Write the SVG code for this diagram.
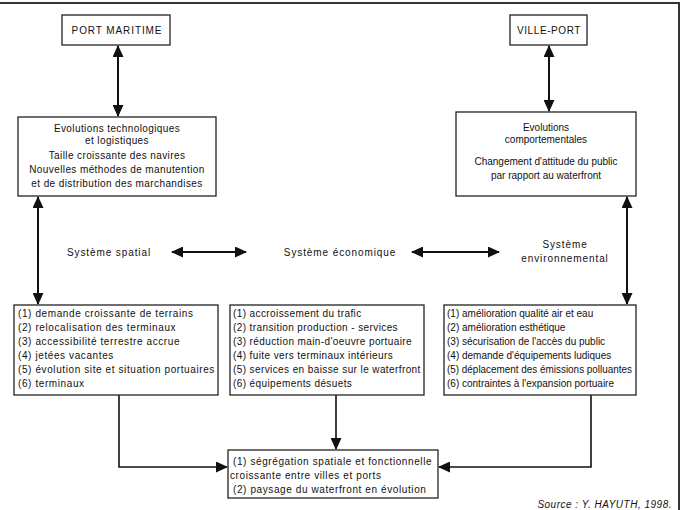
<svg xmlns="http://www.w3.org/2000/svg" width="682" height="510" viewBox="0 0 682 510">
<style>
.box{fill:#fff;stroke:#222;stroke-width:1.3}
.t{font-family:"Liberation Sans",Arial,sans-serif;font-size:10px;fill:#111}
.c{text-anchor:middle}
.ls4{letter-spacing:0.4px}
.ls6{letter-spacing:0.6px}
.ls9{letter-spacing:0.9px}
.ln{fill:none;stroke:#111;stroke-width:2}
.ln2{fill:none;stroke:#111;stroke-width:1.6}
</style>
<defs>
<marker id="ah" viewBox="0 0 12 11" refX="11" refY="5.5" markerWidth="12" markerHeight="11" markerUnits="userSpaceOnUse" orient="auto-start-reverse">
<path d="M0,0 L12,5.5 L0,11 z" fill="#111"/>
</marker>
</defs>
<rect width="682" height="510" fill="#fff"/>
<path d="M0,3 H679 V510" fill="none" stroke="#333" stroke-width="2"/>

<g id="connectors">
<line class="ln" x1="118" y1="46" x2="118" y2="116" marker-start="url(#ah)" marker-end="url(#ah)"/>
<line class="ln" x1="549" y1="46" x2="549" y2="111" marker-start="url(#ah)" marker-end="url(#ah)"/>
<line class="ln" x1="38" y1="197" x2="38" y2="304" marker-start="url(#ah)" marker-end="url(#ah)"/>
<line class="ln" x1="627" y1="197" x2="627" y2="304" marker-start="url(#ah)" marker-end="url(#ah)"/>
<line class="ln" x1="172" y1="252" x2="246" y2="252" marker-start="url(#ah)" marker-end="url(#ah)"/>
<line class="ln" x1="412" y1="252" x2="499" y2="252" marker-start="url(#ah)" marker-end="url(#ah)"/>
<path class="ln2" d="M119,395 V467 H227" marker-end="url(#ah)"/>
<line class="ln2" x1="336" y1="395" x2="336" y2="449" marker-end="url(#ah)"/>
<path class="ln2" d="M591,395 V467 H439" marker-end="url(#ah)"/>
</g>

<g id="port-maritime">
<rect class="box" x="62" y="15" width="108" height="30"/>
<text class="t c ls9" x="117" y="34">PORT MARITIME</text>
</g>
<g id="ville-port">
<rect class="box" x="510" y="15" width="77" height="30"/>
<text class="t c ls6" x="549" y="34">VILLE-PORT</text>
</g>

<g id="evol-tech">
<rect class="box" x="18" y="117" width="198" height="79"/>
<text class="t c ls4" x="117" y="132">Evolutions technologiques</text>
<text class="t c ls4" x="117" y="144">et logistiques</text>
<text class="t c ls4" x="117" y="159">Taille croissante des navires</text>
<text class="t c ls4" x="117" y="173">Nouvelles méthodes de manutention</text>
<text class="t c ls4" x="117" y="187">et de distribution des marchandises</text>
</g>

<g id="evol-comp">
<rect class="box" x="456" y="112" width="180" height="84"/>
<text class="t c" x="546" y="131">Evolutions</text>
<text class="t c" x="546" y="143">comportementales</text>
<text class="t c" x="546" y="165">Changement d'attitude du public</text>
<text class="t c" x="546" y="179">par rapport au waterfront</text>
</g>

<g id="sys-spatial">
<text class="t c ls9" x="109" y="256">Système spatial</text>
</g>
<g id="sys-eco">
<text class="t c ls9" x="340" y="256">Système économique</text>
</g>
<g id="sys-env">
<text class="t c ls9" x="565" y="248">Système</text>
<text class="t c ls9" x="565" y="262">environnemental</text>
</g>

<g id="box-spatial">
<rect class="box" x="14" y="305" width="204" height="90"/>
<text class="t ls6" x="18" y="317">(1) demande croissante de terrains</text>
<text class="t ls6" x="18" y="331">(2) relocalisation des terminaux</text>
<text class="t ls6" x="18" y="345">(3) accessibilité terrestre accrue</text>
<text class="t ls6" x="18" y="359">(4) jetées vacantes</text>
<text class="t ls6" x="18" y="373">(5) évolution site et situation portuaires</text>
<text class="t ls6" x="18" y="387">(6) terminaux</text>
</g>

<g id="box-eco">
<rect class="box" x="230" y="305" width="194" height="90"/>
<text class="t ls4" x="233" y="317">(1) accroissement du trafic</text>
<text class="t ls4" x="233" y="331">(2) transition production - services</text>
<text class="t ls4" x="233" y="345">(3) réduction main-d'oeuvre portuaire</text>
<text class="t ls4" x="233" y="359">(4) fuite vers terminaux intérieurs</text>
<text class="t ls4" x="233" y="373">(5) services en baisse sur le waterfront</text>
<text class="t ls4" x="233" y="387">(6) équipements désuets</text>
</g>

<g id="box-env">
<rect class="box" x="444" y="305" width="192" height="90"/>
<text class="t" x="447" y="317">(1) amélioration qualité air et eau</text>
<text class="t" x="447" y="331">(2) amélioration esthétique</text>
<text class="t" x="447" y="345">(3) sécurisation de l'accès du public</text>
<text class="t" x="447" y="359">(4) demande d'équipements ludiques</text>
<text class="t" x="447" y="373" textLength="185" lengthAdjust="spacingAndGlyphs">(5) déplacement des émissions polluantes</text>
<text class="t" x="447" y="387">(6) contraintes à l'expansion portuaire</text>
</g>

<g id="box-result">
<rect class="box" x="228" y="450" width="210" height="48"/>
<text class="t ls6" x="233" y="465">(1) ségrégation spatiale et fonctionnelle</text>
<text class="t ls6" x="230" y="479">croissante entre villes et ports</text>
<text class="t ls6" x="233" y="493">(2) paysage du waterfront en évolution</text>
</g>

<text class="t" x="672" y="508" text-anchor="end" font-style="italic" letter-spacing="0.5">Source : Y. HAYUTH, 1998.</text>
</svg>
